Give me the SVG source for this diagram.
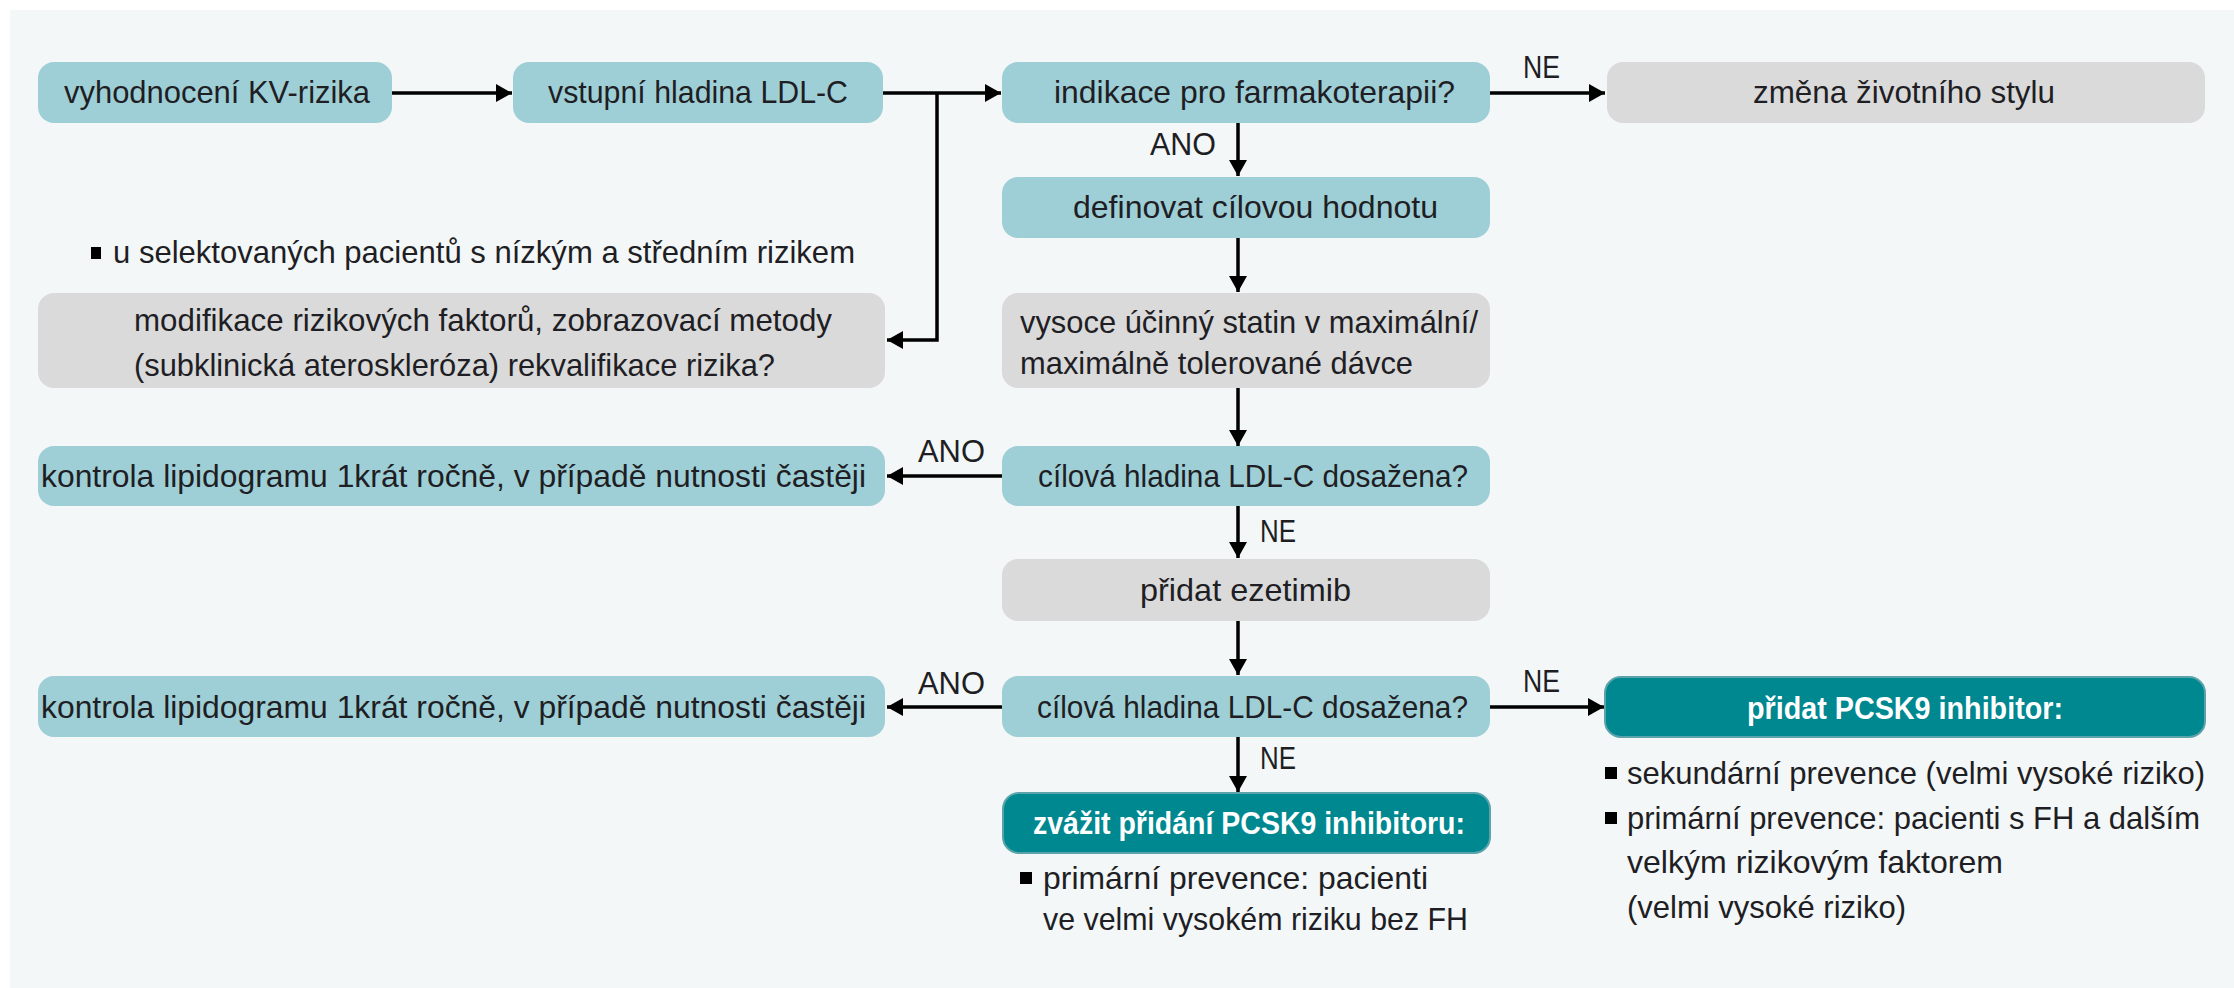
<svg xmlns="http://www.w3.org/2000/svg" width="2234" height="988" viewBox="0 0 2234 988">
<style>
.t{font-family:"Liberation Sans",Arial,sans-serif;font-size:32px;fill:#1e1e24;}
.w{font-family:"Liberation Sans",Arial,sans-serif;font-size:31px;font-weight:bold;fill:#ffffff;}
.lbl{font-family:"Liberation Sans",Arial,sans-serif;font-size:31px;fill:#1e1e24;}
.teal{fill:#9fcfd6;}
.gray{fill:#dadada;}
.dark{fill:#008891;stroke:#5aa3aa;stroke-width:2;}
.con{fill:none;stroke:#000;stroke-width:3.5;}
.bul{fill:#000;}
</style>
<defs>
<marker id="ah" markerUnits="userSpaceOnUse" markerWidth="18" markerHeight="20" refX="16" refY="10" orient="auto">
<path d="M0,1 L16,10 L0,19 Z" fill="#000"/>
</marker>
</defs>
<rect x="0" y="0" width="2234" height="988" fill="#ffffff"/>
<rect x="10" y="10" width="2224" height="978" fill="#f3f7f7"/>

<g id="connectors">
<path class="con" d="M392,93 H512" marker-end="url(#ah)"/>
<path class="con" d="M883,93 H1001" marker-end="url(#ah)"/>
<path class="con" d="M937,93 V340 H887" marker-end="url(#ah)"/>
<path class="con" d="M1490,93 H1605" marker-end="url(#ah)"/>
<path class="con" d="M1238,122 V176" marker-end="url(#ah)"/>
<path class="con" d="M1238,238 V292" marker-end="url(#ah)"/>
<path class="con" d="M1238,388 V446" marker-end="url(#ah)"/>
<path class="con" d="M1002,476 H887" marker-end="url(#ah)"/>
<path class="con" d="M1238,505 V558" marker-end="url(#ah)"/>
<path class="con" d="M1238,621 V675" marker-end="url(#ah)"/>
<path class="con" d="M1002,707 H887" marker-end="url(#ah)"/>
<path class="con" d="M1490,707 H1604" marker-end="url(#ah)"/>
<path class="con" d="M1238,737 V792" marker-end="url(#ah)"/>
<text class="lbl" x="1523" y="78" textLength="37" lengthAdjust="spacingAndGlyphs">NE</text>
<text class="lbl" x="1150" y="155" textLength="66" lengthAdjust="spacingAndGlyphs">ANO</text>
<text class="lbl" x="918" y="462" textLength="67" lengthAdjust="spacingAndGlyphs">ANO</text>
<text class="lbl" x="1260" y="542" textLength="36" lengthAdjust="spacingAndGlyphs">NE</text>
<text class="lbl" x="918" y="694" textLength="67" lengthAdjust="spacingAndGlyphs">ANO</text>
<text class="lbl" x="1523" y="692" textLength="37" lengthAdjust="spacingAndGlyphs">NE</text>
<text class="lbl" x="1260" y="769" textLength="36" lengthAdjust="spacingAndGlyphs">NE</text>
</g>

<g id="n1">
<rect class="teal" x="38" y="62" width="354" height="61" rx="16"/>
<text class="t" x="64" y="103" textLength="306" lengthAdjust="spacingAndGlyphs">vyhodnocení KV-rizika</text>
</g>
<g id="n2">
<rect class="teal" x="513" y="62" width="370" height="61" rx="16"/>
<text class="t" x="548" y="103" textLength="300" lengthAdjust="spacingAndGlyphs">vstupní hladina LDL-C</text>
</g>
<g id="n3">
<rect class="teal" x="1002" y="62" width="488" height="61" rx="16"/>
<text class="t" x="1054" y="103" textLength="401" lengthAdjust="spacingAndGlyphs">indikace pro farmakoterapii?</text>
</g>
<g id="n4">
<rect class="gray" x="1607" y="62" width="598" height="61" rx="16"/>
<text class="t" x="1753" y="103" textLength="302" lengthAdjust="spacingAndGlyphs">změna životního stylu</text>
</g>
<g id="n5">
<rect class="teal" x="1002" y="177" width="488" height="61" rx="16"/>
<text class="t" x="1073" y="218" textLength="365" lengthAdjust="spacingAndGlyphs">definovat cílovou hodnotu</text>
</g>
<g id="n6">
<rect class="gray" x="1002" y="293" width="488" height="95" rx="16"/>
<text class="t" x="1020" y="333" textLength="458" lengthAdjust="spacingAndGlyphs">vysoce účinný statin v maximální/</text>
<text class="t" x="1020" y="374" textLength="393" lengthAdjust="spacingAndGlyphs">maximálně tolerované dávce</text>
</g>
<g id="note1">
<rect class="bul" x="91" y="247" width="10" height="12"/>
<text class="t" x="113" y="263" textLength="742" lengthAdjust="spacingAndGlyphs">u selektovaných pacientů s nízkým a středním rizikem</text>
</g>
<g id="n7">
<rect class="gray" x="38" y="293" width="847" height="95" rx="16"/>
<text class="t" x="134" y="331" textLength="698" lengthAdjust="spacingAndGlyphs">modifikace rizikových faktorů, zobrazovací metody</text>
<text class="t" x="134" y="376" textLength="641" lengthAdjust="spacingAndGlyphs">(subklinická ateroskleróza) rekvalifikace rizika?</text>
</g>
<g id="n8">
<rect class="teal" x="38" y="446" width="847" height="60" rx="16"/>
<text class="t" x="41" y="487" textLength="825" lengthAdjust="spacingAndGlyphs">kontrola lipidogramu 1krát ročně, v případě nutnosti častěji</text>
</g>
<g id="n9">
<rect class="teal" x="1002" y="446" width="488" height="60" rx="16"/>
<text class="t" x="1038" y="487" textLength="430" lengthAdjust="spacingAndGlyphs">cílová hladina LDL-C dosažena?</text>
</g>
<g id="n10">
<rect class="gray" x="1002" y="559" width="488" height="62" rx="16"/>
<text class="t" x="1140" y="601" textLength="211" lengthAdjust="spacingAndGlyphs">přidat ezetimib</text>
</g>
<g id="n11">
<rect class="teal" x="38" y="676" width="847" height="61" rx="16"/>
<text class="t" x="41" y="718" textLength="825" lengthAdjust="spacingAndGlyphs">kontrola lipidogramu 1krát ročně, v případě nutnosti častěji</text>
</g>
<g id="n12">
<rect class="teal" x="1002" y="676" width="488" height="61" rx="16"/>
<text class="t" x="1037" y="718" textLength="431" lengthAdjust="spacingAndGlyphs">cílová hladina LDL-C dosažena?</text>
</g>
<g id="n13">
<rect class="dark" x="1605" y="677" width="600" height="60" rx="16"/>
<text class="w" x="1747" y="719" textLength="316" lengthAdjust="spacingAndGlyphs">přidat PCSK9 inhibitor:</text>
</g>
<g id="n13list">
<rect class="bul" x="1605" y="767" width="12" height="12"/>
<text class="t" x="1627" y="784" textLength="578" lengthAdjust="spacingAndGlyphs">sekundární prevence (velmi vysoké riziko)</text>
<rect class="bul" x="1605" y="812" width="12" height="12"/>
<text class="t" x="1627" y="829" textLength="573" lengthAdjust="spacingAndGlyphs">primární prevence: pacienti s FH a dalším</text>
<text class="t" x="1627" y="873" textLength="376" lengthAdjust="spacingAndGlyphs">velkým rizikovým faktorem</text>
<text class="t" x="1627" y="918" textLength="279" lengthAdjust="spacingAndGlyphs">(velmi vysoké riziko)</text>
</g>
<g id="n14">
<rect class="dark" x="1003" y="793" width="487" height="60" rx="16"/>
<text class="w" x="1033" y="834" textLength="432" lengthAdjust="spacingAndGlyphs">zvážit přidání PCSK9 inhibitoru:</text>
</g>
<g id="n14list">
<rect class="bul" x="1020" y="872" width="12" height="12"/>
<text class="t" x="1043" y="889" textLength="385" lengthAdjust="spacingAndGlyphs">primární prevence: pacienti</text>
<text class="t" x="1043" y="930" textLength="425" lengthAdjust="spacingAndGlyphs">ve velmi vysokém riziku bez FH</text>
</g>
</svg>
